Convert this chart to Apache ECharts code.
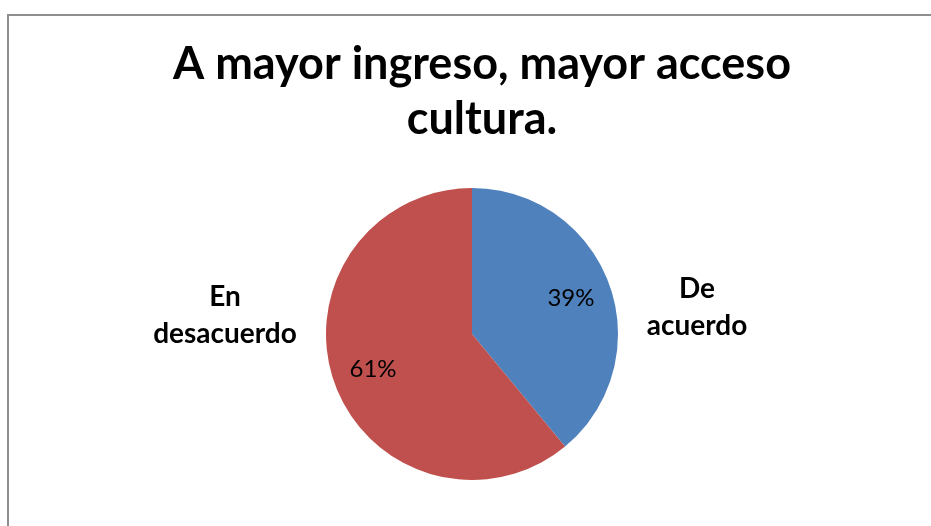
<!DOCTYPE html>
<html><head><meta charset="utf-8">
<script src="https://cdn.jsdelivr.net/npm/echarts@6/dist/echarts.min.js"></script>
<style>html,body{margin:0;padding:0;background:#fff}#c{width:931px;height:526px}</style>
</head><body><div id="c"></div>
<script>
const titleText = "A mayor ingreso, mayor acceso\ncultura.";
const categories = ["De acuerdo", "En desacuerdo"];
const values = [39, 61];
const colors = ["#4F81BD", "#C0504D"];
const outsideNames = ["De\nacuerdo", "En\ndesacuerdo"];

const chart = echarts.init(document.getElementById('c'));
const cx = 472, cy = 334, R = 146;
const data = categories.map((c, i) => ({ name: c, value: values[i], itemStyle: { color: colors[i] } }));
const font = "Lato, 'Open Sans', sans-serif";

chart.setOption({
  backgroundColor: '#fff',
  animation: false,
  title: {
    text: titleText, left: 477, top: 32, textAlign: 'center',
    textStyle: { fontFamily: font, fontWeight: 'bold', fontSize: 45, lineHeight: 55, color: '#000' }
  },
  graphic: [{
    type: 'rect', shape: { x: 8, y: 15, width: 1000, height: 600 },
    style: { fill: 'none', stroke: '#8e8e8e', lineWidth: 2 }, silent: true
  }],
  series: [
    {
      type: 'pie', center: [cx, cy], radius: R, startAngle: 90, clockwise: true,
      data: data, silent: true,
      itemStyle: { borderWidth: 0 },
      label: {
        show: true, position: 'outside', formatter: p => outsideNames[p.dataIndex],
        fontFamily: font, fontWeight: 'bold', fontSize: 28, lineHeight: 37, color: '#000', align: 'center'
      },
      labelLine: { show: false },
      labelLayout: function (p) {
        const pos = p.dataIndex === 0 ? { x: cx + 225, y: cy - 27 } : { x: cx - 247, y: cy - 19 };
        return { x: pos.x, y: pos.y, align: 'center', verticalAlign: 'middle' };
      }
    },
    {
      type: 'pie', center: [cx, cy], radius: R * 1.4, startAngle: 90, clockwise: true,
      data: data.map(d => ({ name: d.name, value: d.value, itemStyle: { color: 'rgba(0,0,0,0)' } })),
      silent: true, z: 5,
      label: {
        show: true, position: 'inside', formatter: p => p.value + '%',
        fontFamily: font, fontSize: 24, color: '#000'
      },
      labelLine: { show: false }
    }
  ]
});
</script></body></html>
